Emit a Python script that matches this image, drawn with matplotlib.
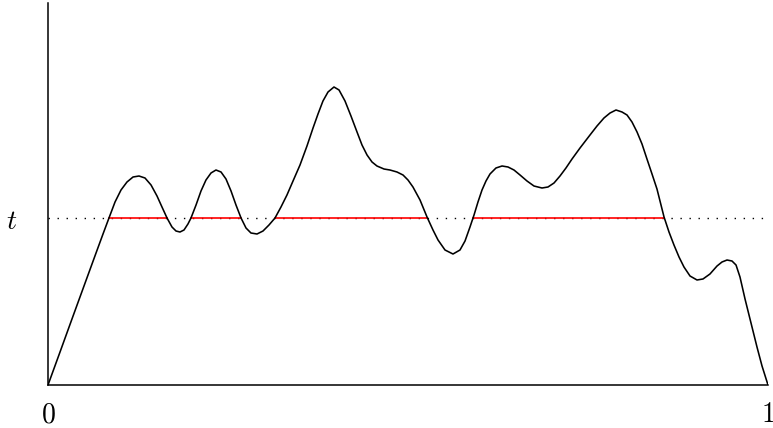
import numpy as np
import matplotlib.pyplot as plt

plt.rcParams['mathtext.fontset'] = 'cm'

# courbe (x dans [0,1], y dans [0,1])
x = [0.0, 0.0167, 0.0333, 0.05, 0.0667, 0.0764, 0.0847, 0.0931, 0.1014, 0.1097,
     0.1181, 0.1264, 0.1347, 0.1431, 0.1514, 0.1583, 0.1653, 0.1722, 0.1778, 0.1833,
     0.1889, 0.1944, 0.1986, 0.2056, 0.2125, 0.2194, 0.2264, 0.2333, 0.2403, 0.2472,
     0.2542, 0.2611, 0.2681, 0.275, 0.2819, 0.2903, 0.2986, 0.3069, 0.3153, 0.3236,
     0.3319, 0.3403, 0.35, 0.3597, 0.3681, 0.375, 0.3819, 0.3889, 0.3972, 0.4042,
     0.4125, 0.4208, 0.4292, 0.4361, 0.4431, 0.45, 0.4569, 0.4667, 0.475, 0.4847,
     0.4931, 0.5, 0.5069, 0.5167, 0.5264, 0.5347, 0.5417, 0.5514, 0.5625, 0.5722,
     0.5792, 0.5861, 0.5917, 0.5972, 0.6028, 0.6083, 0.6139, 0.6222, 0.6306, 0.6389,
     0.6472, 0.6556, 0.6653, 0.675, 0.6861, 0.6944, 0.7028, 0.7111, 0.7194, 0.7278,
     0.7389, 0.7528, 0.7625, 0.7722, 0.7806, 0.7889, 0.7972, 0.8042, 0.8111, 0.8181,
     0.825, 0.8319, 0.8389, 0.8458, 0.8514, 0.8556, 0.8625, 0.8694, 0.8764, 0.8833,
     0.8917, 0.9014, 0.9097, 0.9194, 0.9292, 0.9361, 0.9431, 0.95, 0.9556, 0.9611,
     0.9681, 0.9764, 0.9847, 0.9917, 1.0]
y = [0.0, 0.0864, 0.1728, 0.2592, 0.3455, 0.3953, 0.4372, 0.4791, 0.5105, 0.5314,
     0.5445, 0.5471, 0.5419, 0.5236, 0.4948, 0.466, 0.4372, 0.4136, 0.4031, 0.4005,
     0.4058, 0.4215, 0.4372, 0.4712, 0.5079, 0.5366, 0.555, 0.5628, 0.5576, 0.5393,
     0.5079, 0.4712, 0.4372, 0.411, 0.3979, 0.3953, 0.4031, 0.4188, 0.4372, 0.466,
     0.4974, 0.534, 0.5759, 0.6257, 0.6728, 0.7094, 0.7435, 0.767, 0.7801, 0.7723,
     0.7435, 0.7042, 0.6623, 0.6283, 0.6021, 0.5838, 0.5733, 0.5654, 0.5628, 0.5576,
     0.5497, 0.5366, 0.5183, 0.4843, 0.4398, 0.4058, 0.3796, 0.3534, 0.3429, 0.3534,
     0.377, 0.4136, 0.445, 0.4791, 0.5105, 0.534, 0.5524, 0.5681, 0.5733, 0.5707,
     0.5628, 0.5497, 0.534, 0.5209, 0.5157, 0.5183, 0.5288, 0.5471, 0.5681, 0.5916,
     0.6204, 0.6545, 0.678, 0.699, 0.712, 0.7199, 0.7147, 0.7068, 0.6885, 0.6623,
     0.6309, 0.5916, 0.5524, 0.5131, 0.4712, 0.4398, 0.4005, 0.3665, 0.3351, 0.3089,
     0.2853, 0.2749, 0.2775, 0.2906, 0.3115, 0.322, 0.3272, 0.3246, 0.3141, 0.2827,
     0.2251, 0.1623, 0.0995, 0.0497, 0.0]

# niveau t et intervalles ou la courbe depasse t
t = 0.438
rouge = [(0.085, 0.165), (0.199, 0.268), (0.315, 0.526), (0.590, 0.856)]

fig = plt.figure(figsize=(7.73, 4.28), dpi=100)
ax = fig.add_axes([48/773, 43/428, 720/773, 382/428])

ax.plot([0, 1], [t, t], color='black', lw=1.0, linestyle=(0, (1, 5.5)))
for a, b in rouge:
    ax.plot([a, b], [t, t], color='red', lw=1.2)
ax.plot(x, y, color='black', lw=1.15)

ax.set_xlim(0, 1)
ax.set_ylim(0, 1)
ax.spines['top'].set_visible(False)
ax.spines['right'].set_visible(False)
ax.spines['left'].set_linewidth(1.1)
ax.spines['bottom'].set_linewidth(1.1)
ax.set_xticks([0, 1])
ax.set_xticklabels(['$0$', '$1$'], fontsize=20)
ax.set_yticks([t])
ax.set_yticklabels(['$t$'], fontsize=20)
ax.tick_params(axis='both', length=0)
ax.tick_params(axis='x', pad=11)
ax.tick_params(axis='y', pad=22)

fig.savefig('out.png', dpi=100)
